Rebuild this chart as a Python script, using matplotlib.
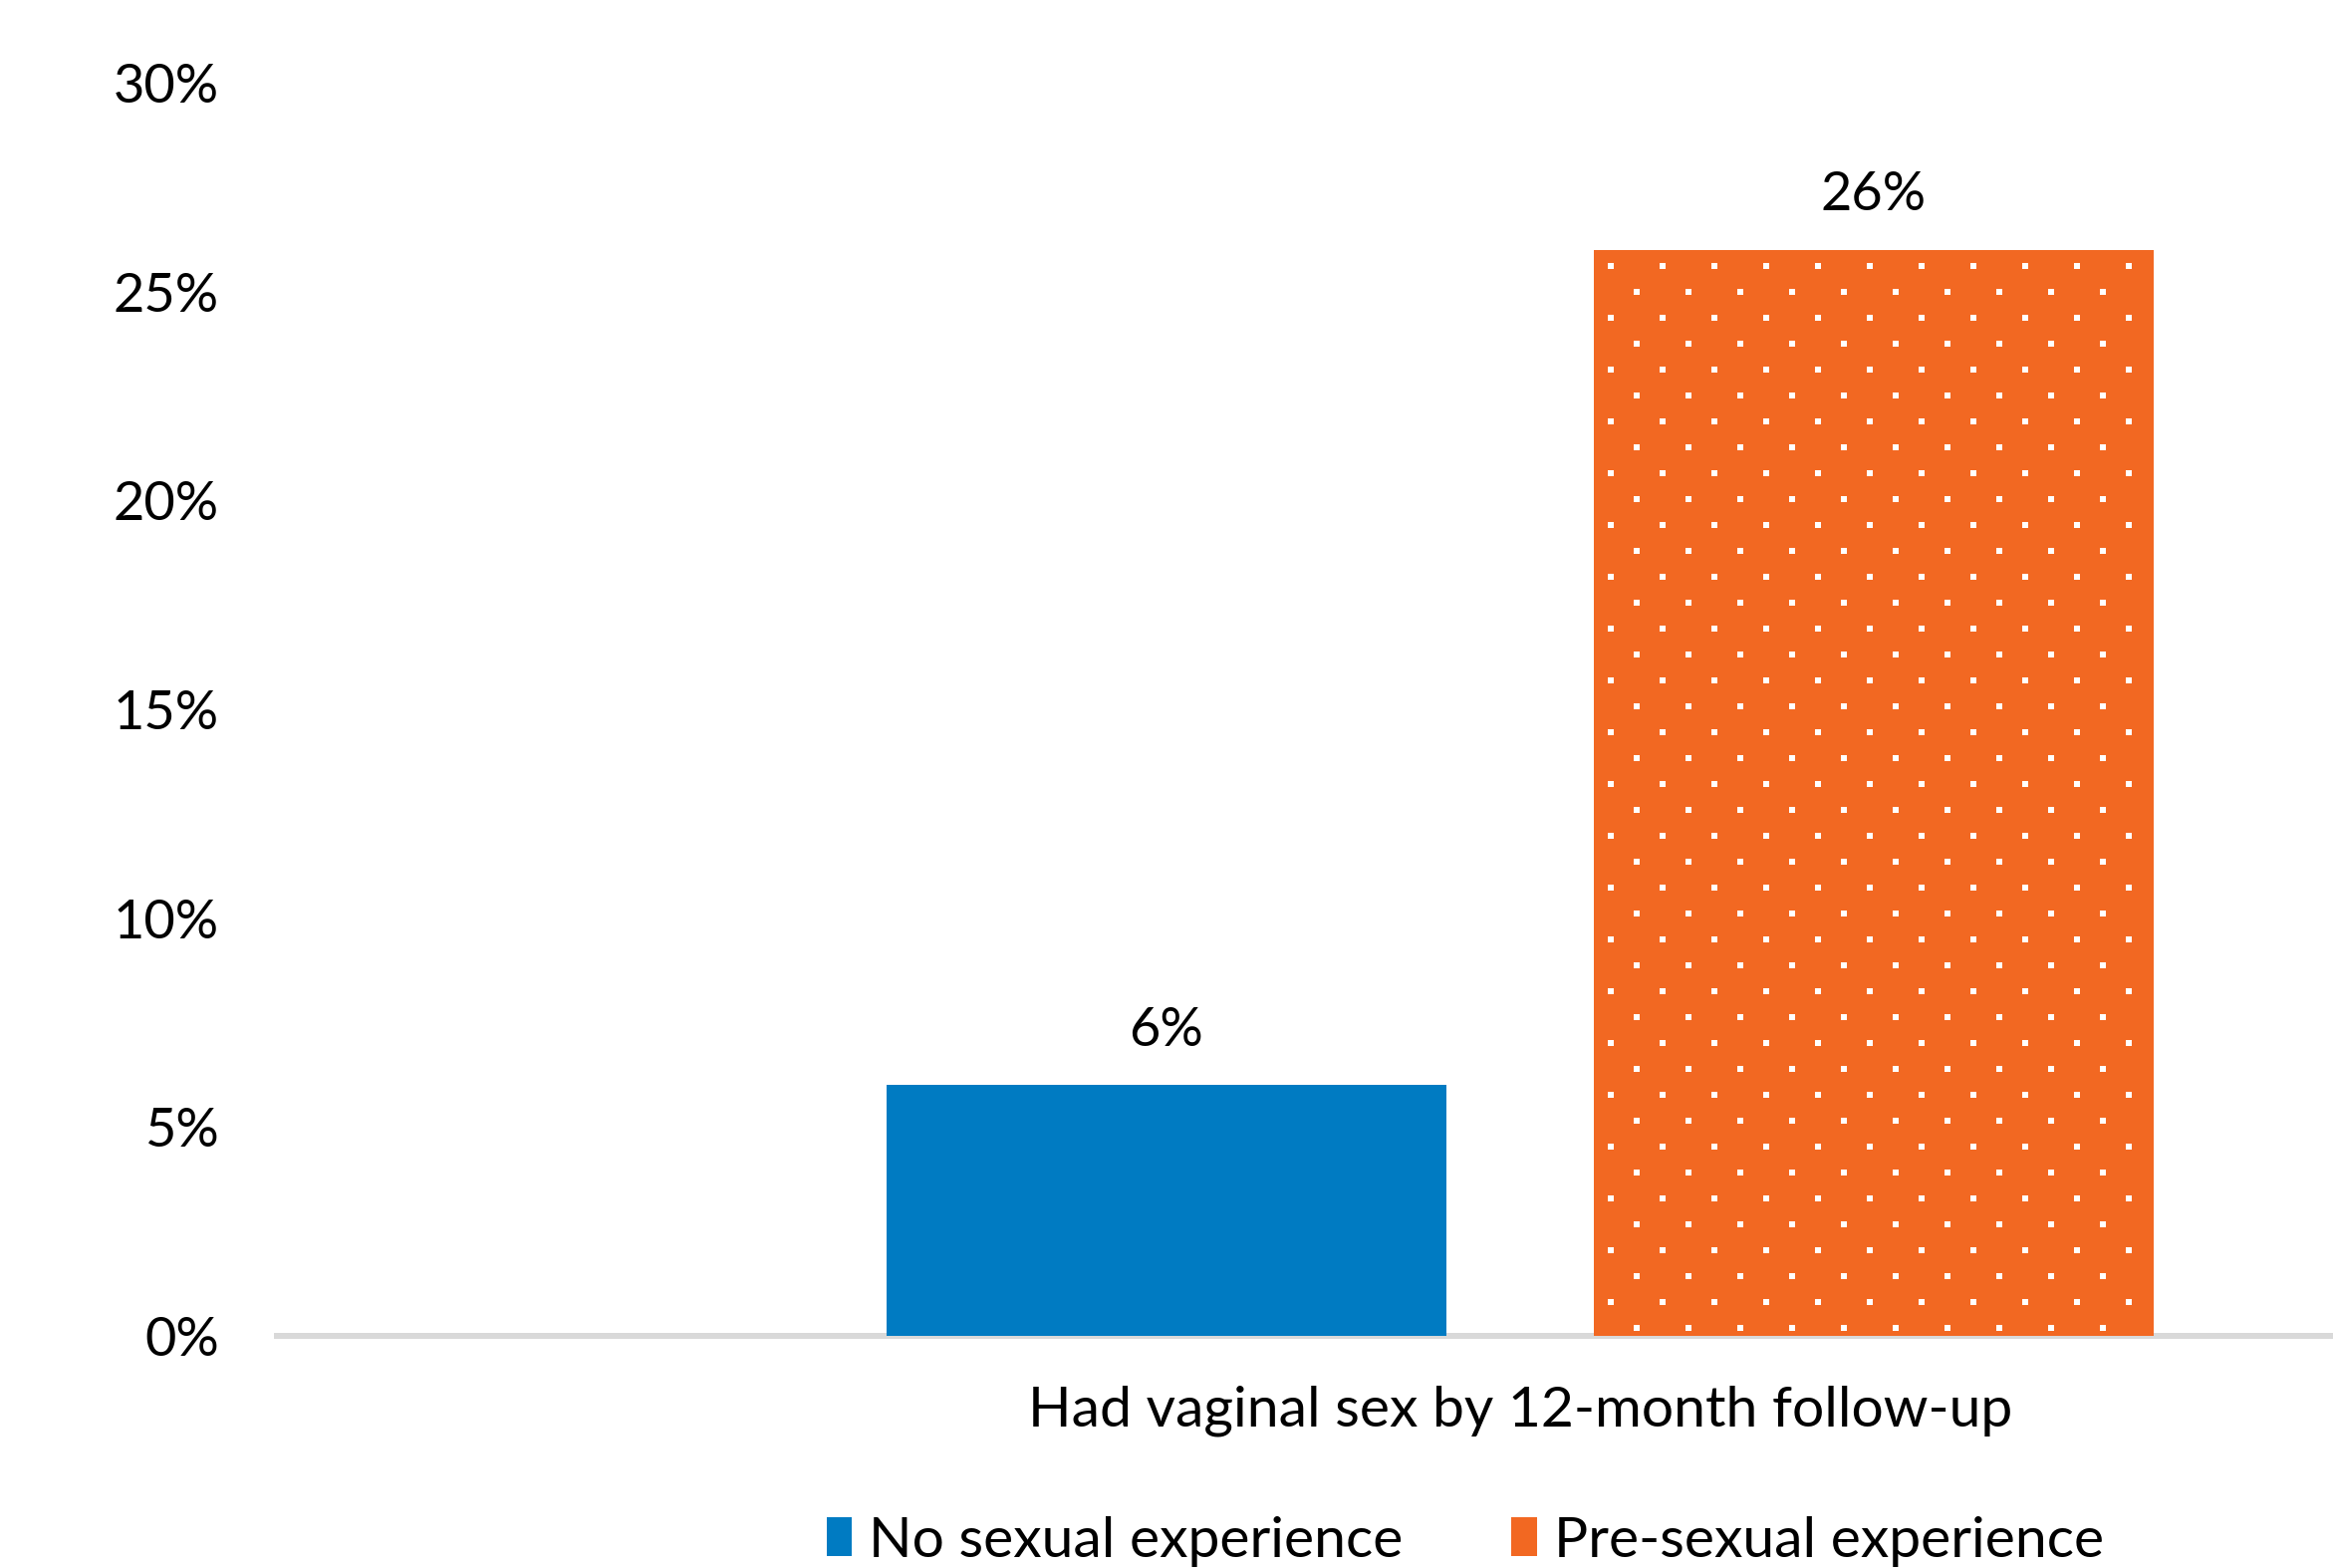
import numpy as np
import matplotlib.pyplot as plt
from matplotlib.patches import Patch

plt.rcParams['font.family'] = ['Lato', 'DejaVu Sans']

# ── data ──────────────────────────────────────────────────────────────
category = "Had vaginal sex by 12-month follow-up"
series   = ["No sexual experience", "Pre-sexual experience"]
values   = [6, 26]
colors   = ["#007BC2", "#F26822"]
yticks   = [0, 5, 10, 15, 20, 25, 30]

W_PX, H_PX, DPI = 2342, 1574, 100
FS = 39
FS_WIDE = 41   # category + legend text runs a bit wider in the original

fig = plt.figure(figsize=(W_PX / DPI, H_PX / DPI), dpi=DPI)
ax_l, ax_b = 278 / W_PX, 233 / H_PX
ax_w, ax_h = 1 - ax_l, (1491 - 233) / H_PX
ax = fig.add_axes([ax_l, ax_b, ax_w, ax_h])

xmin, xmax = -0.888, 0.581
ymin, ymax = 0, 30
bar_w  = 0.40
offset = 0.2527

bars = []
for i, (name, v, c) in enumerate(zip(series, values, colors)):
    x = (i - 0.5) * 2 * offset
    b = ax.bar(x, v, width=bar_w, color=c, label=name, zorder=2)
    ax.bar_label(b, labels=[f"{v}%"], padding=22, fontsize=FS)
    bars.append(b)

ax.set_xlim(xmin, xmax)
ax.set_ylim(ymin, ymax)

# dotted pattern on the second bar (white squares, staggered rows)
px_x = W_PX * ax_w / (xmax - xmin)
px_y = H_PX * ax_h / (ymax - ymin)
patch = bars[1].patches[0]
x0, y_top = patch.get_x(), patch.get_height()
dx, dy = 52 / px_x, 26 / px_y
pts = []
for r, yy in enumerate(np.arange(y_top - 16 / px_y, 0, -dy)):
    shift = 17 / px_x + (dx / 2 if r % 2 else 0)
    for xx in np.arange(x0 + shift, x0 + patch.get_width(), dx):
        pts.append((xx, yy))
pts = np.array(pts)
sc = ax.scatter(pts[:, 0], pts[:, 1], marker='s', s=24, color='white',
                linewidths=0, zorder=3)
sc.set_clip_path(patch)

ax.set_yticks(yticks)
ax.set_yticklabels([f"{t}%" for t in yticks])
ax.set_xticks([0])
ax.set_xticklabels([category])
ax.tick_params(axis='y', length=0, pad=42, labelsize=FS)
ax.tick_params(axis='x', length=0, pad=36, labelsize=FS_WIDE)

for s in ['top', 'right', 'left']:
    ax.spines[s].set_visible(False)
ax.spines['bottom'].set_color('#D9D9D9')
ax.spines['bottom'].set_linewidth(4.3)
ax.spines['bottom'].set_zorder(1)

handles = [Patch(facecolor=c, edgecolor='none') for c in colors]
fig.legend(handles, series, loc='center', bbox_to_anchor=(0.628, 0.017),
           ncol=2, frameon=False, fontsize=FS_WIDE, handlelength=0.45,
           handleheight=0.68, handletextpad=0.3, columnspacing=1.9,
           borderaxespad=0, borderpad=0)

fig.savefig("out.png", dpi=DPI)
